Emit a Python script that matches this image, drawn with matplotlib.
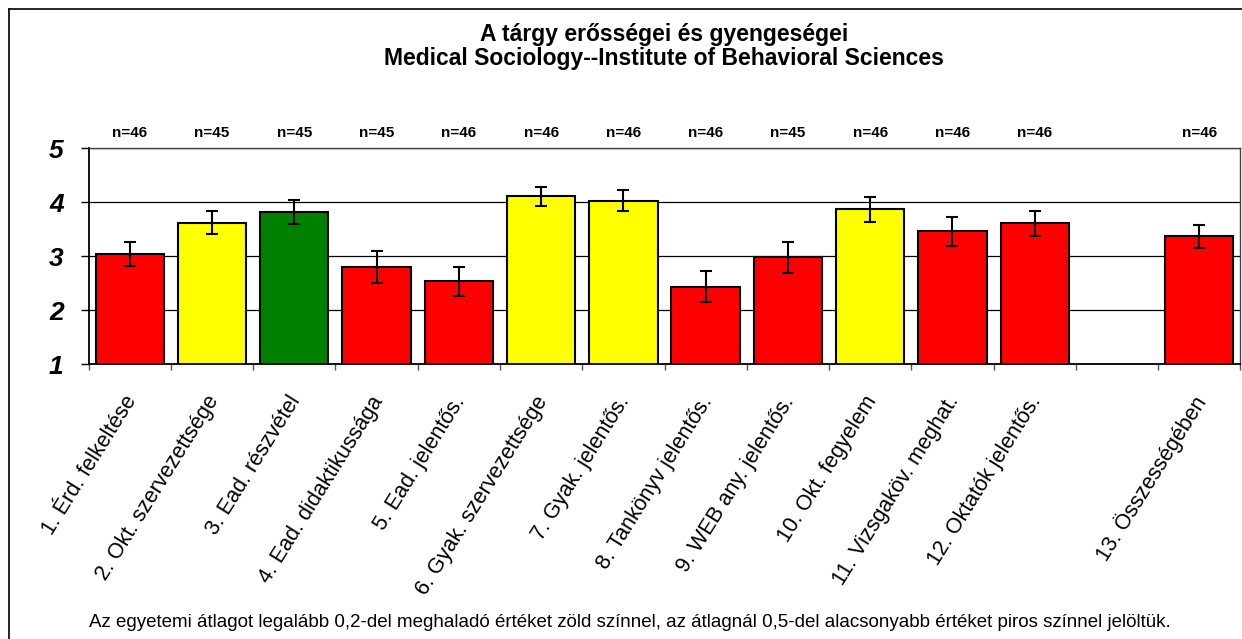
import numpy as np
import matplotlib
matplotlib.use("Agg")
import matplotlib.pyplot as plt
from matplotlib.lines import Line2D
from matplotlib.transforms import ScaledTranslation

plt.rcParams['font.family'] = ['Liberation Sans', 'DejaVu Sans']

# Data
labels = ["1. Érd. felkeltése", "2. Okt. szervezettsége", "3. Ead. részvétel",
          "4. Ead. didaktikussága", "5. Ead. jelentős.", "6. Gyak. szervezettsége",
          "7. Gyak. jelentős.", "8. Tankönyv jelentős.", "9. WEB any. jelentős.",
          "10. Okt. fegyelem", "11. Vizsgaköv. meghat.", "12. Oktatók jelentős.",
          "", "13. Összességében"]
means = [3.04, 3.62, 3.82, 2.80, 2.54, 4.11, 4.03, 2.44, 2.98, 3.87, 3.46, 3.61, np.nan, 3.37]
errors = [0.22, 0.21, 0.23, 0.30, 0.27, 0.17, 0.19, 0.29, 0.28, 0.23, 0.26, 0.23, np.nan, 0.21]
n_labels = ["n=46", "n=45", "n=45", "n=45", "n=46", "n=46", "n=46", "n=46", "n=45",
            "n=46", "n=46", "n=46", "", "n=46"]
bar_colors = ["#FF0000", "#FFFF00", "#008000", "#FF0000", "#FF0000", "#FFFF00", "#FFFF00",
              "#FF0000", "#FF0000", "#FFFF00", "#FF0000", "#FF0000", "white", "#FF0000"]
yticks = [1, 2, 3, 4, 5]

title1 = "A tárgy erősségei és gyengeségei"
title2 = "Medical Sociology--Institute of Behavioral Sciences"
footer = ("Az egyetemi átlagot legalább 0,2-del meghaladó értéket zöld színnel, "
          "az átlagnál 0,5-del alacsonyabb értéket piros színnel jelöltük.")

W, H = 1242, 639
fig = plt.figure(figsize=(W / 100, H / 100), dpi=100)
ax = fig.add_axes([88.7 / W, 1 - 364.3 / H, (1240.3 - 88.7) / W, (364.3 - 148.3) / H])

x = np.arange(len(labels))
ax.bar(x, means, width=0.83, color=bar_colors, edgecolor="black", linewidth=1.5, zorder=2)
ax.errorbar(x, means, yerr=errors, fmt="none", ecolor="black", elinewidth=1.5,
            capsize=4, capthick=1.5, zorder=3)

ax.set_xlim(-0.5, len(labels) - 0.5)
ax.set_ylim(1, 5)
ax.set_yticks(yticks)
ax.set_yticklabels([str(v) for v in yticks], fontsize=19, fontweight="bold", fontstyle="italic")
ax.tick_params(axis="y", direction="out", length=6, width=1, pad=12)

# grid lines
ax.yaxis.grid(True, color="black", linewidth=0.9)
ax.set_axisbelow(True)

# category boundaries as major ticks, labels on minor ticks
ax.set_xticks(np.arange(-0.5, len(labels), 1.0))
ax.set_xticklabels([])
ax.tick_params(axis="x", which="major", direction="out", length=4.5, width=1, color="#555555")
ax.set_xticks(x, minor=True)
ax.set_xticklabels(labels, minor=True, rotation=58, ha="right", va="top",
                   rotation_mode="anchor", fontsize=15.5)
ax.tick_params(axis="x", which="minor", length=0, pad=20)
shift = ScaledTranslation(-7 / 100, 0, fig.dpi_scale_trans)
for lab in ax.get_xticklabels(minor=True):
    lab.set_transform(lab.get_transform() + shift)

for side in ["left", "bottom"]:
    ax.spines[side].set_color("black")
    ax.spines[side].set_linewidth(1.3)
for side in ["top", "right"]:
    ax.spines[side].set_color("#444444")
    ax.spines[side].set_linewidth(1.0)

for xi, s in zip(x, n_labels):
    ax.annotate(s, (xi, 5), xytext=(0, 8.4), textcoords="offset points",
                ha="center", va="baseline", fontsize=11, fontweight="bold")

fig.text(664 / W, 1 - 41 / H, title1, ha="center", va="baseline", fontsize=16.5, fontweight="bold")
fig.text(664 / W, 1 - 65 / H, title2, ha="center", va="baseline", fontsize=16.5, fontweight="bold")
fig.text(630 / W, 1 - 626.7 / H, footer, ha="center", va="baseline", fontsize=13.5)

# outer chart frame (only left and top visible)
fig.add_artist(Line2D([9 / W, 9 / W], [-0.01, 1 - 9 / H], color="black", linewidth=1.2))
fig.add_artist(Line2D([9 / W, 1.01], [1 - 9 / H, 1 - 9 / H], color="black", linewidth=1.2))

fig.savefig("out.png", dpi=100)
